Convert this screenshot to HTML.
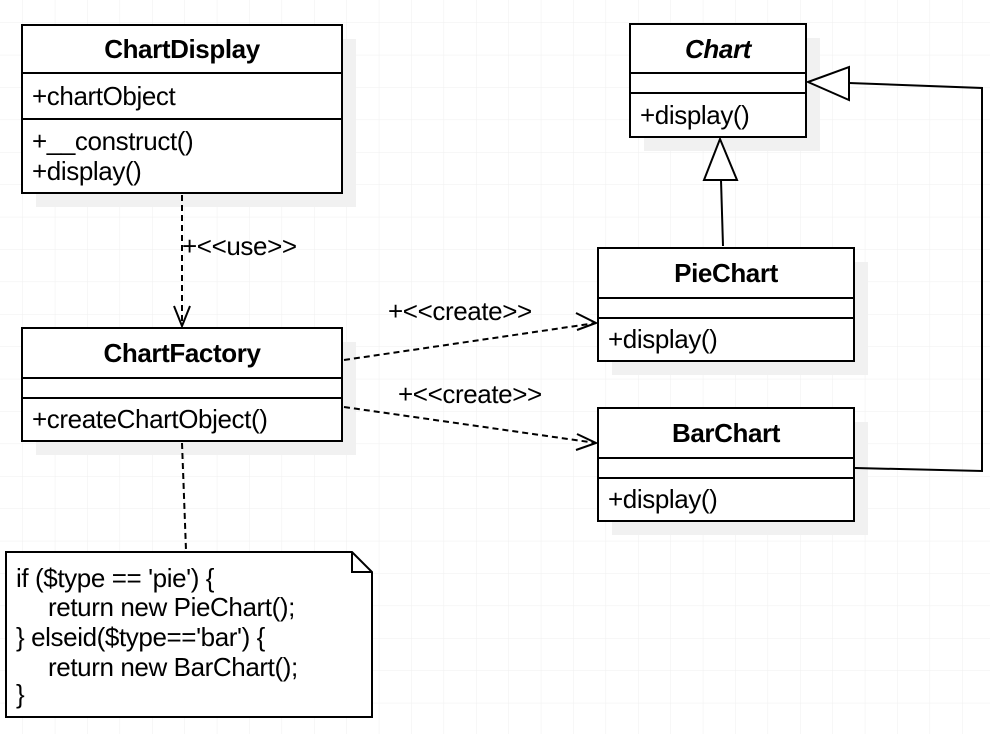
<!DOCTYPE html>
<html><head><meta charset="utf-8"><style>
html,body{margin:0;padding:0;background:#fff;}
svg{display:block;font-family:"Liberation Sans",sans-serif;}
</style></head><body>
<svg width="990" height="734" viewBox="0 0 990 734" xmlns="http://www.w3.org/2000/svg">
<defs>
<pattern id="g" x="-9.5" y="-9.5" width="32.4" height="32.4" patternUnits="userSpaceOnUse">
<path d="M32.4 0V32.4M0 32.4H32.4" stroke="#efefef" stroke-width="1" fill="none"/>
</pattern>
</defs>
<rect width="990" height="734" fill="url(#g)"/>
<g fill="#f1f1f1">
<rect x="36" y="39" width="320" height="168"/>
<rect x="644" y="38" width="176" height="113"/>
<rect x="612" y="262" width="256" height="113"/>
<rect x="612" y="422" width="256" height="113"/>
<rect x="36" y="342" width="320" height="113"/>
</g>
<g fill="#fff" stroke="#000" stroke-width="2">
<rect x="22" y="25" width="320" height="168"/>
<line x1="22" y1="73" x2="342" y2="73"/><line x1="22" y1="119" x2="342" y2="119"/>
<rect x="630" y="24" width="176" height="113"/>
<line x1="630" y1="73" x2="806" y2="73"/><line x1="630" y1="93" x2="806" y2="93"/>
<rect x="598" y="248" width="256" height="113"/>
<line x1="598" y1="298" x2="854" y2="298"/><line x1="598" y1="318" x2="854" y2="318"/>
<rect x="598" y="408" width="256" height="113"/>
<line x1="598" y1="458" x2="854" y2="458"/><line x1="598" y1="478" x2="854" y2="478"/>
<rect x="22" y="328" width="320" height="113"/>
<line x1="22" y1="378" x2="342" y2="378"/><line x1="22" y1="398" x2="342" y2="398"/>
<path d="M6 552H352L372 572V717H6Z"/>
<path d="M352 552V572H372" fill="none"/>
</g>
<g stroke="#000" stroke-width="2" fill="none">
<path d="M182 195V326" stroke-dasharray="6 4"/>
<path d="M174 306L182 326L190 306"/>
<path d="M344 360L596 323" stroke-dasharray="6 4"/>
<path d="M576 313L596 323L577 330"/>
<path d="M344 407L596 443" stroke-dasharray="6 4"/>
<path d="M577 434L596 443L576 450"/>
<path d="M182 443L186 550" stroke-dasharray="6 4"/>
<path d="M723 246L721 180"/>
<path d="M720 139L737 180H704Z" fill="#fff"/>
<path d="M855 468L982 471V88L849 83"/>
<path d="M808 82L849 67V100Z" fill="#fff"/>
</g>
<g font-size="26" fill="#000" letter-spacing="-0.4">
<text x="182" y="58" text-anchor="middle" font-weight="bold">ChartDisplay</text>
<text x="32" y="105">+chartObject</text>
<text x="32" y="150">+__construct()</text>
<text x="32" y="180">+display()</text>
<text x="718" y="58" text-anchor="middle" font-weight="bold" font-style="italic">Chart</text>
<text x="640" y="124">+display()</text>
<text x="726" y="282" text-anchor="middle" font-weight="bold">PieChart</text>
<text x="608" y="348">+display()</text>
<text x="726" y="442" text-anchor="middle" font-weight="bold">BarChart</text>
<text x="608" y="508">+display()</text>
<text x="182" y="362" text-anchor="middle" font-weight="bold">ChartFactory</text>
<text x="32" y="428">+createChartObject()</text>
<text x="182" y="255">+&lt;&lt;use&gt;&gt;</text>
<text x="388" y="320">+&lt;&lt;create&gt;&gt;</text>
<text x="398" y="403">+&lt;&lt;create&gt;&gt;</text>
<text x="16" y="587">if ($type == 'pie') {</text>
<text x="48" y="616">return new PieChart();</text>
<text x="16" y="646">} elseid($type=='bar') {</text>
<text x="48" y="676">return new BarChart();</text>
<text x="16" y="703">}</text>
</g>
</svg>
</body></html>
